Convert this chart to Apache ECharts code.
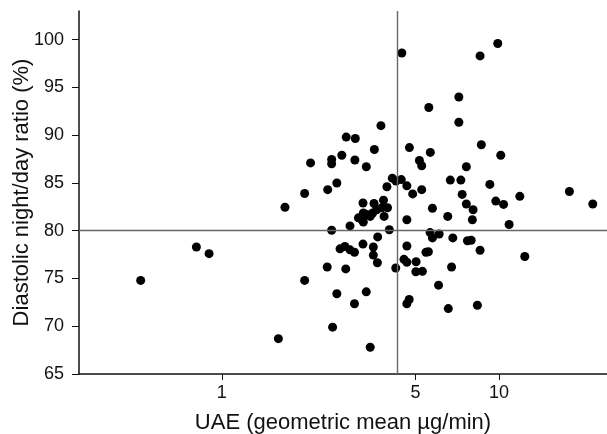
<!DOCTYPE html>
<html>
<head>
<meta charset="utf-8">
<script src="https://cdn.jsdelivr.net/npm/echarts@6/dist/echarts.min.js"></script>
<style>
  html, body { margin: 0; padding: 0; background: #fff; }
  #main { width: 607px; height: 434px; }
</style>
</head>
<body>
<div id="main"></div>
<script>
// UAE (geometric mean ug/min)
var uae = [
  0.51, 0.81, 0.90, 1.60, 1.99, 1.69, 1.99, 2.09, 2.41, 2.49,
  2.49, 2.71, 2.60, 2.81, 3.03, 3.02, 3.32, 3.55, 3.75, 4.46,
  8.54, 9.89, 7.16, 5.58, 7.16, 8.63, 4.75, 5.65, 10.14, 5.16,
  5.26, 7.62, 4.12, 4.25, 4.44, 4.65, 3.94, 6.67, 7.28, 9.26,
  5.26, 4.88, 7.36, 11.88, 17.93, 21.77, 9.73, 10.38, 7.62, 8.06,
  5.75, 6.53, 8.01, 4.65, 10.87, 2.49, 2.90, 4.02, 5.64, 5.75,
  6.08, 6.81, 7.69, 7.93, 8.54, 12.38, 3.65, 3.23, 3.52, 3.52,
  3.64, 2.67, 2.78, 2.90, 3.01, 2.40, 2.80, 2.60, 3.01, 3.32,
  2.51, 3.43, 4.24, 4.65, 4.54, 4.65, 5.02, 5.01, 5.29, 5.45,
  5.56, 6.74, 6.05, 4.65, 4.74, 6.56, 8.35, 3.23, 3.54, 3.83,
  3.96, 3.78, 3.62, 3.24, 3.43, 3.85, 3.11, 3.20, 3.33, 3.24,
  3.50
];
// diastolic night/day ratio (%)
var ratio = [
  74.8, 78.3, 77.6, 68.7, 74.8, 82.45, 83.9, 87.1, 84.3, 87.45,
  87.0, 87.9, 85.0, 89.8, 89.65, 87.4, 86.7, 88.5, 91.0, 98.6,
  98.3, 99.6, 94.0, 92.9, 91.35, 89.0, 88.7, 88.2, 87.9, 87.35,
  86.8, 86.7, 85.5, 85.2, 85.35, 84.7, 84.6, 85.3, 85.3, 84.85,
  84.3, 83.85, 83.8, 83.6, 84.1, 82.8, 83.1, 82.75, 82.8, 82.2,
  82.35, 81.5, 81.15, 81.15, 80.65, 80.05, 80.5, 80.1, 79.8, 79.25,
  79.65, 79.25, 78.95, 79.0, 77.95, 77.3, 79.35, 78.6, 78.3, 77.45,
  76.65, 78.1, 78.35, 78.0, 77.75, 76.2, 76.0, 73.4, 72.35, 73.6,
  69.9, 67.8, 76.1, 78.4, 77.0, 76.7, 76.75, 75.7, 75.75, 77.75,
  77.8, 76.2, 74.3, 72.35, 72.8, 71.85, 72.2, 82.9, 82.85, 83.2,
  82.4, 82.4, 82.2, 81.85, 81.5, 81.5, 81.35, 81.15, 81.7, 80.9,
  81.85
];
var xTicks = [1, 5, 10];
var yTicks = [65, 70, 75, 80, 85, 90, 95, 100];
var refUae = 4.29;
var refRatio = 80.1;

var points = [];
for (var i = 0; i < uae.length; i++) {
  points.push([uae[i], ratio[i]]);
}

var chart = echarts.init(document.getElementById('main'), null, { renderer: 'canvas' });
var fontFamily = '"Liberation Sans", Arial, sans-serif';

chart.setOption({
  animation: false,
  grid: { left: 79, right: 0, top: 11, bottom: 60, containLabel: false, outerBoundsMode: 'none' },
  xAxis: {
    type: 'log',
    min: 0.3056,
    max: 24.5,
    name: 'UAE (geometric mean \u00b5g/min)',
    nameLocation: 'middle',
    nameGap: 38,
    nameMoveOverlap: false,
    nameTextStyle: { fontFamily: fontFamily, fontSize: 22, color: '#111' },
    axisLine: { lineStyle: { color: '#111', width: 1.5 } },
    axisTick: { length: 6, lineStyle: { color: '#111' }, customValues: xTicks },
    axisLabel: { customValues: xTicks, margin: 10, fontFamily: fontFamily, fontSize: 18, color: '#111' },
    splitLine: { show: false },
    minorTick: { show: false }
  },
  yAxis: {
    type: 'value',
    min: 65,
    max: 103,
    name: 'Diastolic night/day ratio (%)',
    nameLocation: 'middle',
    nameGap: 46,
    nameMoveOverlap: false,
    nameTextStyle: { fontFamily: fontFamily, fontSize: 22, color: '#111' },
    axisLine: { lineStyle: { color: '#111', width: 1.5 } },
    axisTick: { show: true, length: 7, lineStyle: { color: '#111' }, customValues: yTicks },
    axisLabel: { customValues: yTicks, margin: 15, fontFamily: fontFamily, fontSize: 18, color: '#111' },
    splitLine: { show: false }
  },
  series: [{
    type: 'scatter',
    data: points,
    symbolSize: 9,
    itemStyle: { color: '#000', opacity: 1 },
    markLine: {
      silent: true,
      symbol: 'none',
      label: { show: false },
      lineStyle: { color: '#666', width: 1.4, type: 'solid' },
      data: [{ xAxis: refUae }, { yAxis: refRatio }]
    }
  }]
});
</script>
</body>
</html>
